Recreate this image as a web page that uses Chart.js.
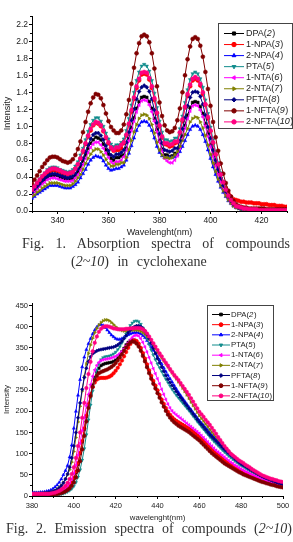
<!DOCTYPE html>
<html>
<head>
<meta charset="utf-8">
<script src="https://cdn.jsdelivr.net/npm/chart.js@4.4.1/dist/chart.umd.min.js"></script>
<style>
  html, body { margin: 0; padding: 0; background: #fff; }
  body { width: 293px; height: 542px; position: relative; overflow: hidden; }
  canvas { position: absolute; left: 0; }
  .cap { position: absolute; font-family: "Liberation Serif", "DejaVu Serif", serif; font-size: 14px; line-height: 16px; color: #333; }
  .just { text-align: justify; text-align-last: justify; }
</style>
</head>
<body>
<canvas id="absChart" width="293" height="240" style="top:0"></canvas>
<div class="cap just" style="left:22px;width:268px;top:236px">Fig. 1. Absorption spectra of compounds</div>
<div class="cap" style="left:71px;top:254px;white-space:nowrap;word-spacing:5px">(<i>2~10</i>) in cyclohexane</div>
<canvas id="emChart" width="293" height="235" style="top:290px"></canvas>
<div class="cap just" style="left:6px;width:286px;top:521px">Fig. 2. Emission spectra of compounds (<i>2~10</i>)</div>

<script>
// series names and compound numbers (numbers are printed in italics)
const seriesNames = ['DPA', '1-NPA', '2-NPA', 'PTA', '1-NTA', '2-NTA', 'PFTA', '1-NFTA', '2-NFTA'];
const seriesNums = ['2', '3', '4', '5', '6', '7', '8', '9', '10'];

// Fig. 1 - absorption, wavelength (nm)
const absWavelength = [330,331,332,333,334,335,336,337,338,339,340,341,342,343,344,345,346,347,348,349,
  350,351,352,353,354,355,356,357,358,359,360,361,362,363,364,365,366,367,368,369,
  370,371,372,373,374,375,376,377,378,379,380,381,382,383,384,385,386,387,388,389,
  390,391,392,393,394,395,396,397,398,399,400,401,402,403,404,405,406,407,408,409,
  410,411,412,413,414,415,416,417,418,419,420,421,422,423,424,425,426,427,428,429,430];

const absDPA = [.21,.24,.28,.31,.34,.37,.40,.42,.42,.42,.42,.40,.39,.38,.38,.38,
  .38,.42,.46,.52,.59,.66,.74,.80,.84,.87,.86,.84,.79,.72,.67,.62,.60,
  .63,.63,.65,
  .66,.74,.85,.98,1.10,1.21,1.29,1.34,1.35,1.34,1.29,1.21,1.09,.96,.83,.73,.66,
  .66,.64,.65,.68,
  .67,.76,.88,1.01,1.13,1.22,1.28,1.29,1.28,1.23,1.15,1.03,.91,.78,.66,.55,.45,.35,.28,.21,.15,.11,.08,.05,.04,.03,.03,.03,.02,
  .02,.01,.01,.01,.01,.01,.01,0,0,0,0,0,0,0,0];
const absNPA1 = [.24,.28,.32,.35,.39,.42,.45,.47,.48,.48,.47,.46,.44,.44,.43,.44,
  .46,.50,.55,.62,.70,.79,.88,.95,1.01,1.04,1.03,1.00,.94,.86,.80,.74,.71,
  .72,.72,.74,
  .80,.89,1.02,1.17,1.32,1.45,1.54,1.61,1.62,1.61,1.55,1.45,1.31,1.15,1.00,.87,.79,
  .78,.76,.77,.80,
  .81,.92,1.06,1.22,1.36,1.47,1.54,1.56,1.54,1.48,1.38,1.25,1.09,.94,.80,.66,.54,.43,.34,.27,.21,.17,.14,.13,.12,.11,.11,.10,.10,
  .10,.09,.09,.09,.08,.08,.08,.07,.07,.07,.06,.06,.06,.05,.05];
const absNPA2 = [.15,.17,.20,.22,.24,.26,.28,.30,.30,.30,.30,.29,.28,.27,.27,.27,
  .29,.31,.34,.39,.44,.49,.55,.60,.63,.65,.64,.63,.59,.54,.50,.48,.49,
  .50,.50,.52,
  .54,.60,.68,.77,.86,.95,1.01,1.05,1.06,1.05,1.01,.95,.86,.76,.69,.65,.63,
  .63,.63,.63,.64,
  .66,.70,.76,.83,.90,.96,1.00,1.01,1.00,.96,.90,.82,.72,.62,.52,.43,.35,.28,.22,.17,.12,.09,.06,.04,.03,.02,.01,.01,.01,
  0,0,0,0,0,0,0,0,0,0,0,0,0,0,0];
const absPTA = [.26,.30,.34,.38,.42,.45,.49,.51,.52,.52,.51,.49,.48,.47,.46,.47,
  .49,.53,.58,.66,.74,.84,.94,1.02,1.07,1.10,1.10,1.06,1.00,.92,.85,.79,.76,
  .78,.78,.81,
  .85,.95,1.09,1.25,1.40,1.54,1.64,1.71,1.73,1.71,1.65,1.54,1.39,1.22,1.06,.93,.84,
  .84,.82,.83,.86,
  .86,.97,1.12,1.28,1.43,1.55,1.62,1.64,1.62,1.56,1.46,1.31,1.15,.99,.84,.70,.57,.45,.35,.26,.19,.14,.10,.06,.05,.04,.03,.03,.02,
  .01,.01,.01,.01,.01,.01,.01,0,0,0,0,0,0,0,0];
const absNTA1 = [.20,.23,.26,.29,.32,.34,.37,.38,.39,.39,.38,.37,.36,.35,.35,.35,
  .36,.39,.43,.48,.55,.62,.69,.75,.79,.81,.81,.78,.74,.68,.63,.58,.56,
  .58,.58,.60,
  .64,.72,.83,.95,1.06,1.17,1.25,1.30,1.31,1.30,1.25,1.17,1.06,.93,.81,.71,.62,
  .59,.57,.57,.60,
  .65,.74,.85,.98,1.09,1.18,1.24,1.25,1.24,1.19,1.11,1.00,.88,.76,.64,.53,.43,.34,.27,.20,.15,.10,.07,.05,.04,.03,.02,.02,.02,
  .01,.01,.01,.01,.01,.01,.01,0,0,0,0,0,0,0,0];
const absNTA2 = [.17,.19,.22,.24,.27,.29,.31,.33,.33,.33,.33,.32,.31,.30,.30,.30,
  .32,.35,.39,.43,.49,.56,.62,.67,.71,.73,.73,.70,.66,.61,.56,.53,.53,
  .55,.55,.57,
  .57,.63,.72,.83,.93,1.02,1.09,1.13,1.14,1.13,1.09,1.02,.92,.81,.72,.66,.63,
  .63,.62,.63,.66,
  .70,.76,.83,.90,.97,1.05,1.09,1.11,1.10,1.05,.98,.89,.78,.67,.57,.47,.38,.30,.24,.18,.13,.09,.06,.04,.03,.02,.02,.01,.01,
  0,0,0,0,0,0,0,0,0,0,0,0,0,0,0];
const absPFTA = [.22,.26,.29,.32,.36,.39,.41,.43,.44,.44,.43,.42,.41,.40,.39,.40,
  .41,.44,.49,.55,.62,.70,.78,.85,.90,.92,.92,.89,.84,.77,.71,.66,.64,
  .67,.67,.69,
  .72,.81,.93,1.07,1.20,1.32,1.41,1.46,1.48,1.46,1.41,1.32,1.19,1.04,.91,.80,.72,
  .71,.70,.71,.74,
  .74,.83,.97,1.10,1.24,1.34,1.40,1.41,1.40,1.35,1.26,1.13,.99,.86,.72,.60,.49,.39,.30,.23,.17,.12,.08,.06,.04,.03,.03,.03,.02,
  .02,.02,.01,.01,.01,.01,.01,.01,.01,.01,.01,.01,.01,.01,.01];
const absNFTA1 = [.32,.37,.42,.47,.52,.56,.60,.63,.64,.64,.63,.61,.59,.58,.57,.58,
  .61,.66,.73,.82,.93,1.05,1.17,1.27,1.34,1.38,1.37,1.33,1.25,1.15,1.06,.99,.95,
  .92,.92,.95,
  1.02,1.14,1.31,1.50,1.69,1.86,1.98,2.06,2.08,2.06,1.99,1.86,1.68,1.47,1.28,1.12,1.01,
  .95,.93,.94,.98,
  1.07,1.21,1.40,1.60,1.79,1.94,2.03,2.05,2.03,1.95,1.82,1.64,1.44,1.24,1.05,.87,.71,.56,.44,.33,.24,.17,.12,.08,.06,.05,.04,.04,.03,
  .03,.03,.03,.03,.03,.03,.02,.02,.02,.02,.02,.02,.02,.02,.02];
const absNFTA2 = [.25,.29,.33,.37,.41,.44,.47,.49,.50,.50,.49,.48,.46,.45,.44,.45,
  .46,.50,.55,.62,.71,.80,.89,.97,1.02,1.05,1.04,1.01,.95,.87,.81,.75,.72,
  .75,.75,.78,
  .81,.90,1.03,1.19,1.34,1.47,1.56,1.63,1.64,1.63,1.57,1.47,1.33,1.16,1.01,.88,.80,
  .80,.78,.79,.82,
  .82,.93,1.08,1.23,1.38,1.49,1.56,1.58,1.56,1.50,1.40,1.26,1.11,.95,.81,.67,.55,.43,.34,.25,.18,.13,.09,.06,.05,.04,.03,.03,.02,
  .02,.02,.02,.01,.01,.01,.01,.01,.01,.01,.01,.01,.01,.01,.01];

// Fig. 2 - emission, wavelength (nm)
const emWavelength = [380,381,382,383,384,385,386,387,388,389,390,391,392,393,394,395,396,397,398,399,
  400,401,402,403,404,405,406,407,408,409,410,411,412,413,414,415,416,417,418,419,
  420,421,422,423,424,425,426,427,428,429,430,431,432,433,434,435,436,437,438,439,
  440,441,442,443,444,445,446,447,448,449,450,451,452,453,454,455,456,457,458,459,
  460,461,462,463,464,465,466,467,468,469,470,471,472,473,474,475,476,477,478,479,
  480,481,482,483,484,485,486,487,488,489,490,491,492,493,494,495,496,497,498,499,500];

const emDPA = [5,5,5,5,5,5,5,5,4,4, 4,4,5,5,6,8,11,15,21,29,
  40,55,75,100,128,158,188,215,240,262, 280,293,302,308,311,313,314,315,316,318,
  321,326,333,341,349,357,363,367,369,368, 365,358,348,336,322,307,293,280,268,258,
  248,236,224,213,203,195,189,184,180,177, 174,171,168,165,162,159,156,152,148,144,
  140,135,130,125,120,115,110,105,100,96, 92,88,84,80,77,74,71,68,65,62,
  59,57,54,52,50,48,46,44,42,40, 38,36,35,33,31,30,28,27,25,24, 22];
const emNPA1 = [4,4,4,4,4,4,4,4,4,4, 5,5,6,7,9,11,14,18,24,32,
  43,58,78,102,130,160,190,217,240,257, 268,275,278,279,279,279,280,282,285,290,
  296,303,311,320,330,340,350,359,366,368, 366,360,350,338,325,311,297,284,272,261,
  250,239,228,218,208,199,192,186,181,177, 174,171,168,165,162,159,155,151,147,143,
  139,134,129,124,119,114,109,104,100,96, 92,88,84,80,77,74,71,68,65,62,
  59,57,54,52,50,48,46,44,42,40, 38,36,35,33,31,30,28,27,26,24, 23];
const emNPA2 = [8,8,8,8,9,9,10,11,12,14, 17,21,26,32,40,50,60,72,92,120,
  160,200,238,275,305,328,346,360,372,383, 392,399,404,405,403,398,392,386,380,376,
  372,370,370,372,375,378,381,383,385,386, 386,385,383,379,374,367,360,352,344,337,
  330,321,312,303,294,285,277,269,261,253, 245,238,231,224,217,210,204,197,191,184,
  178,172,167,161,156,150,144,139,133,128, 122,117,112,107,102,97,93,89,85,81,
  77,74,71,68,65,62,59,56,53,50, 47,45,43,41,39,37,35,33,31,30, 28];
const emPTA = [3,3,3,3,3,3,3,3,3,3, 3,3,4,4,5,6,8,10,13,17,
  23,32,45,62,85,112,145,180,215,248, 276,298,313,322,327,329,330,331,333,336,
  340,346,353,362,372,383,394,403,409,413, 414,412,406,397,385,372,358,345,333,322,
  312,303,294,285,276,268,260,252,245,238, 232,226,220,214,208,202,196,189,183,176,
  170,164,158,152,146,140,135,129,124,119, 114,109,104,100,95,91,87,83,79,75,
  72,69,66,63,60,57,55,52,50,47, 45,43,41,39,37,35,33,31,30,28, 27];
const emNTA1 = [4,4,4,4,4,4,4,4,4,5, 5,6,7,9,11,14,18,23,30,40,
  54,73,97,125,155,185,213,240,263,283, 298,309,316,320,322,323,324,325,326,328,
  330,333,337,342,348,355,362,369,375,379, 380,378,372,363,352,340,327,314,301,289,
  277,265,252,240,228,217,208,201,196,192, 188,184,180,176,172,168,164,160,156,152,
  148,143,138,133,128,123,118,113,108,104, 100,96,92,88,84,80,77,73,70,67,
  64,61,58,56,53,51,49,47,45,43, 41,39,37,35,34,32,31,29,28,26, 25];
const emNTA2 = [6,6,6,6,6,6,7,7,8,9, 11,13,16,20,25,32,40,50,62,80,
  105,138,175,212,248,282,312,337,357,373, 386,396,404,410,414,416,416,414,410,405,
  400,396,393,391,390,390,390,391,392,392, 392,391,389,386,382,377,371,364,356,348,
  340,333,326,319,312,305,298,291,284,277, 270,263,255,247,239,231,222,214,206,198,
  190,183,177,170,164,157,151,145,139,133, 128,122,116,111,106,101,96,91,87,82,
  78,75,71,68,65,61,58,55,52,50, 47,45,43,41,39,37,36,34,33,31, 30];
const emPFTA = [6,6,6,6,6,6,7,7,8,9, 10,12,15,19,24,31,40,52,68,90,
  118,150,185,220,252,280,302,318,329,336, 340,343,345,346,347,348,349,350,351,352,
  354,357,361,366,372,379,386,392,397,400, 402,402,400,396,390,382,372,361,349,337,
  325,315,305,295,285,276,268,261,254,247, 240,233,227,220,214,207,201,194,188,181,
  175,169,163,157,151,145,140,135,130,125, 120,115,110,106,101,97,93,88,84,80,
  76,73,70,67,64,61,58,55,52,49, 46,44,42,40,38,36,34,32,30,29, 27];
const emNFTA1 = [4,4,4,4,4,4,4,4,4,4, 4,5,5,6,7,9,11,14,18,24,
  32,44,60,82,110,142,176,208,236,258, 274,284,290,293,295,297,299,302,305,309,
  314,320,327,335,343,351,358,363,365,364, 360,353,343,331,318,304,290,277,265,254,
  243,232,221,211,201,192,185,179,174,170, 166,163,160,157,154,151,147,143,139,135,
  131,126,121,116,111,106,101,97,93,89, 85,81,77,74,71,68,65,62,59,56,
  54,51,49,47,45,43,41,39,37,35, 33,32,30,29,27,26,25,23,22,21, 20];
const emNFTA2 = [5,5,5,5,5,5,5,5,5,6, 7,8,10,12,15,19,24,31,40,52,
  68,90,118,150,185,220,255,288,317,342, 362,377,388,395,399,401,401,400,398,396,
  395,394,394,394,394,395,395,396,396,397, 397,397,396,394,390,384,377,369,361,353,
  345,337,330,322,315,308,300,293,286,280, 274,267,260,253,246,239,231,223,215,207,
  199,193,187,180,174,168,161,154,147,139, 132,125,118,112,106,100,96,92,88,84,
  81,78,74,71,68,64,61,58,55,52, 49,47,45,43,41,40,38,37,35,34, 33];

// axis ticks
const absTicksX = [340, 360, 380, 400, 420];
const absTicksY = [0, 0.2, 0.4, 0.6, 0.8, 1.0, 1.2, 1.4, 1.6, 1.8, 2.0, 2.2];
const absMinorX = [330, 350, 370, 390, 410, 430];
const absMinorY = [0.1, 0.3, 0.5, 0.7, 0.9, 1.1, 1.3, 1.5, 1.7, 1.9, 2.1, 2.3];
const emTicksX = [380, 400, 420, 440, 460, 480, 500];
const emTicksY = [0, 50, 100, 150, 200, 250, 300, 350, 400, 450];
const emMinorX = [390, 410, 430, 450, 470, 490];
const emMinorY = [25, 75, 125, 175, 225, 275, 325, 375, 425];

const absSeries = [absDPA, absNPA1, absNPA2, absPTA, absNTA1, absNTA2, absPFTA, absNFTA1, absNFTA2];
const emSeries = [emDPA, emNPA1, emNPA2, emPTA, emNTA1, emNTA2, emPFTA, emNFTA1, emNFTA2];

const colors = ['#000000', '#ff0000', '#0000ff', '#118c8c', '#ff00ff', '#808000', '#000080', '#800000', '#ff0080'];
const pointStyles = ['rect', 'circle', 'triangle', 'triangle', 'triangle', 'triangle', 'rectRot', 'circle', 'circle'];
const pointRotations = [0, 0, 0, 180, 270, 90, 0, 0, 0];

const SANS = '"Liberation Sans", Arial, sans-serif';

function makeDatasets(xs, series, radius) {
  return series.map((vals, i) => ({
    label: seriesNames[i],
    data: vals.map((v, k) => ({ x: xs[k], y: v })),
    borderColor: colors[i],
    backgroundColor: colors[i],
    borderWidth: 1,
    pointStyle: pointStyles[i],
    pointRotation: pointRotations[i],
    pointRadius: radius,
    pointBorderWidth: 0.5,
    tension: 0,
    order: series.length - i   // later series drawn on top, like Origin
  }));
}

// small unlabeled ticks between the major ones
const minorTicks = {
  id: 'minorTicks',
  afterDraw(chart, args, opts) {
    const { ctx, scales: { x, y } } = chart;
    ctx.save();
    ctx.strokeStyle = '#000';
    ctx.lineWidth = 1;
    ctx.beginPath();
    opts.x.forEach(v => {
      const px = Math.round(x.getPixelForValue(v)) + 0.5;
      ctx.moveTo(px, x.top);
      ctx.lineTo(px, x.top + 2);
    });
    opts.y.forEach(v => {
      const py = Math.round(y.getPixelForValue(v)) + 0.5;
      ctx.moveTo(y.right - 2, py);
      ctx.lineTo(y.right, py);
    });
    ctx.stroke();
    ctx.restore();
  }
};

// boxed legend with italic compound numbers
const boxLegend = {
  id: 'boxLegend',
  afterDraw(chart, args, o) {
    const ctx = chart.ctx;
    ctx.save();
    ctx.fillStyle = '#fff';
    ctx.fillRect(o.left, o.top, o.width, o.height);
    ctx.strokeStyle = '#444';
    ctx.lineWidth = 1;
    ctx.strokeRect(o.left + 0.5, o.top + 0.5, o.width, o.height);
    chart.data.datasets.forEach((ds, i) => {
      const yy = o.top + o.first + i * o.step;
      ctx.strokeStyle = ds.borderColor;
      ctx.lineWidth = 1;
      ctx.beginPath();
      ctx.moveTo(o.left + o.line1, yy);
      ctx.lineTo(o.left + o.line2, yy);
      ctx.stroke();
      ctx.fillStyle = ds.backgroundColor;
      Chart.helpers.drawPoint(ctx, {
        pointStyle: ds.pointStyle, rotation: ds.pointRotation,
        radius: o.r, borderWidth: 0.5
      }, o.left + (o.line1 + o.line2) / 2, yy);
      ctx.fillStyle = '#222';
      ctx.textBaseline = 'middle';
      ctx.textAlign = 'left';
      let tx = o.left + o.textX;
      const normal = o.size + 'px ' + SANS;
      const ital = 'italic ' + o.size + 'px ' + SANS;
      ctx.font = normal;
      const head = seriesNames[i] + '(';
      ctx.fillText(head, tx, yy);
      tx += ctx.measureText(head).width;
      ctx.font = ital;
      ctx.fillText(seriesNums[i], tx, yy);
      tx += ctx.measureText(seriesNums[i]).width + 0.5;
      ctx.font = normal;
      ctx.fillText(')', tx, yy);
    });
    ctx.restore();
  }
};

function makeScales(c) {
  return {
    x: {
      type: 'linear', min: c.xMin, max: c.xMax,
      afterBuildTicks: s => { s.ticks = c.xTicks.map(v => ({ value: v })); },
      afterFit: s => { s.height = c.xHeight; },
      border: { display: true, color: '#000', width: 1 },
      grid: { drawOnChartArea: false, drawTicks: true, tickLength: 3, color: '#000' },
      ticks: { font: { family: SANS, size: c.tickSize }, color: '#222', padding: 2, maxRotation: 0, autoSkip: false },
      title: { display: true, text: c.xTitle, font: { family: SANS, size: c.titleSize }, color: '#222', padding: { top: 0, bottom: c.titlePad } }
    },
    y: {
      type: 'linear', min: 0, max: c.yMax,
      afterBuildTicks: s => { s.ticks = c.yTicks.map(v => ({ value: v })); },
      afterFit: s => { s.width = 32; },
      border: { display: true, color: '#000', width: 1 },
      grid: { drawOnChartArea: false, drawTicks: true, tickLength: 3, color: '#000' },
      ticks: { font: { family: SANS, size: c.tickSize }, color: '#222', padding: 1, callback: c.fmt },
      title: { display: true, text: 'Intensity', font: { family: SANS, size: c.titleSize }, color: '#222', padding: { top: 2, bottom: 0 } }
    }
  };
}

new Chart(document.getElementById('absChart'), {
  type: 'line',
  data: { datasets: makeDatasets(absWavelength, absSeries, 2) },
  options: {
    responsive: false, animation: false, devicePixelRatio: 1, events: [],
    layout: { padding: { left: 0, top: 16, right: 6, bottom: 0 } },
    scales: makeScales({
      xMin: 330, xMax: 430, yMax: 2.3, xTicks: absTicksX, yTicks: absTicksY,
      xHeight: 29, tickSize: 8.5, titleSize: 9, titlePad: 2.5,
      xTitle: 'Wavelenght(nm)', fmt: v => v.toFixed(1)
    }),
    plugins: {
      legend: { display: false }, tooltip: { enabled: false },
      minorTicks: { x: absMinorX, y: absMinorY },
      boxLegend: { left: 218, top: 23, width: 74, height: 105, first: 10.5, step: 11.05,
                   line1: 6, line2: 26, textX: 28, r: 2.2, size: 9 }
    }
  },
  plugins: [minorTicks, boxLegend]
});

new Chart(document.getElementById('emChart'), {
  type: 'line',
  data: { datasets: makeDatasets(emWavelength, emSeries, 1.8) },
  options: {
    responsive: false, animation: false, devicePixelRatio: 1, events: [],
    layout: { padding: { left: 0, top: 13, right: 10, bottom: 0 } },
    scales: makeScales({
      xMin: 380, xMax: 500, yMax: 456, xTicks: emTicksX, yTicks: emTicksY,
      xHeight: 29, tickSize: 7.5, titleSize: 7.8, titlePad: 2.3,
      xTitle: 'wavelenght(nm)', fmt: v => String(v)
    }),
    plugins: {
      legend: { display: false }, tooltip: { enabled: false },
      minorTicks: { x: emMinorX, y: emMinorY },
      boxLegend: { left: 207, top: 15, width: 66, height: 95, first: 9.5, step: 10.17,
                   line1: 5, line2: 23, textX: 24, r: 1.9, size: 7.8 }
    }
  },
  plugins: [minorTicks, boxLegend]
});
</script>
</body>
</html>
